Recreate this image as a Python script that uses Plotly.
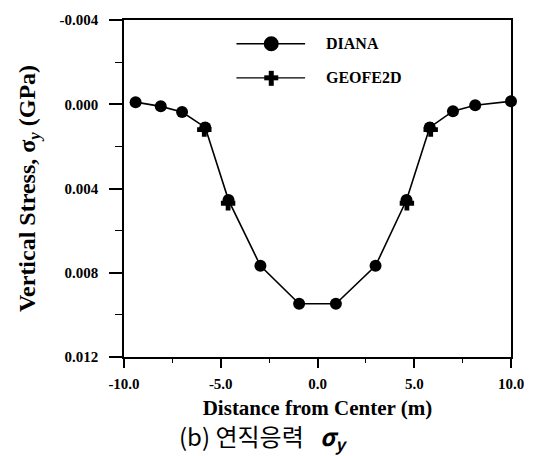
import plotly.graph_objects as go

# Data
diana_x = [-9.4, -8.1, -7.0, -5.8, -4.6, -2.95, -0.95, 0.95, 3.0, 4.6, 5.8, 7.0, 8.15, 10.0]
diana_y = [-0.0001, 0.0001, 0.00037, 0.0011, 0.00455, 0.00767, 0.00947,
           0.00947, 0.00767, 0.00455, 0.0011, 0.00033, 0.00005, -0.00014]

geofe_x = [-5.85, -4.62, None, 4.62, 5.85]
geofe_y = [0.0012, 0.0047, None, 0.0047, 0.0012]

x_ticks = [-10, -5, 0, 5, 10]
x_ticktext = ["-10.0", "-5.0", "0.0", "5.0", "10.0"]
y_ticks = [-0.004, 0.0, 0.004, 0.008, 0.012]
y_ticktext = ["-0.004", "0.000", "0.004", "0.008", "0.012"]

series_names = ["DIANA", "GEOFE2D"]

SERIF = "Liberation Serif"

fig = go.Figure()
fig.add_trace(go.Scatter(
    x=diana_x, y=diana_y, name=series_names[0], mode="lines+markers",
    line=dict(color="black", width=1.6),
    marker=dict(symbol="circle", size=12, color="black"),
    cliponaxis=False, showlegend=False,
))
fig.add_trace(go.Scatter(
    x=geofe_x, y=geofe_y, name=series_names[1], mode="markers",
    marker=dict(symbol="cross", size=12, color="black"),
    cliponaxis=False, showlegend=False,
))

# Custom legend (sample lines, symbols and labels)
lx0, lx1, lxc, ltext = 0.2905, 0.468, 0.3805, 0.5167
ly = [0.9296, 0.8284]
shapes = []
for yy in ly:
    shapes.append(dict(type="line", xref="paper", yref="paper", x0=lx0, x1=lx1,
                       y0=yy, y1=yy, line=dict(color="black", width=1.4)))
shapes.append(dict(type="circle", xref="paper", yref="paper", xsizemode="pixel",
                   ysizemode="pixel", xanchor=lxc, yanchor=ly[0], x0=-7.5, x1=7.5,
                   y0=-7.5, y1=7.5, fillcolor="black", line=dict(width=0)))
shapes.append(dict(type="rect", xref="paper", yref="paper", xsizemode="pixel",
                   ysizemode="pixel", xanchor=lxc, yanchor=ly[1], x0=-7, x1=7,
                   y0=-2.5, y1=2.5, fillcolor="black", line=dict(width=0)))
shapes.append(dict(type="rect", xref="paper", yref="paper", xsizemode="pixel",
                   ysizemode="pixel", xanchor=lxc, yanchor=ly[1], x0=-2.5, x1=2.5,
                   y0=-8, y1=7, fillcolor="black", line=dict(width=0)))

annotations = []
for name, yy in zip(series_names, ly):
    annotations.append(dict(text=name, xref="paper", yref="paper", x=ltext, y=yy,
                            xanchor="left", yanchor="middle", showarrow=False,
                            font=dict(family=SERIF, size=16, color="black", weight="bold")))
annotations.append(dict(
    text="(b) 연직응력\u00a0\u00a0\u00a0<b><i>σ<sub>y</sub></i></b>", xref="paper", yref="paper",
    x=0.36, y=-0.237, xanchor="center", yanchor="middle", showarrow=False,
    font=dict(family="Noto Sans CJK KR", size=24, color="black")))

fig.update_layout(
    width=536, height=456,
    margin=dict(l=124, r=23, t=16, b=99),
    paper_bgcolor="white", plot_bgcolor="white",
    shapes=shapes, annotations=annotations,
    showlegend=False,
)

fig.update_xaxes(
    range=[-10, 10], tickvals=x_ticks, ticktext=x_ticktext,
    showline=True, linecolor="black", linewidth=1.5, mirror=True,
    ticks="outside", ticklen=9, tickwidth=1.5, tickcolor="black",
    minor=dict(dtick=2.5, tick0=0, ticks="outside", ticklen=4, tickwidth=1.2, tickcolor="black"),
    showgrid=False, zeroline=False, ticklabelstandoff=3,
    tickfont=dict(family=SERIF, size=15, color="black", weight="bold"),
    title=dict(text="Distance from Center (m)", standoff=10,
               font=dict(family=SERIF, size=21, color="black", weight="bold")),
)
fig.update_yaxes(
    range=[0.012, -0.004], tickvals=y_ticks, ticktext=y_ticktext,
    showline=True, linecolor="black", linewidth=1.5, mirror=True,
    ticks="outside", ticklen=13, tickwidth=1.5, tickcolor="black",
    minor=dict(dtick=0.002, tick0=0, ticks="outside", ticklen=7, tickwidth=1.2, tickcolor="black"),
    showgrid=False, zeroline=False, ticklabelstandoff=8,
    tickfont=dict(family=SERIF, size=15, color="black", weight="bold"),
    title=dict(text="Vertical Stress, σ<sub><i>y</i></sub> (GPa)", standoff=17,
               font=dict(family=SERIF, size=24, color="black", weight="bold")),
)

fig.write_html("out.html", config={"displayModeBar": False},
               post_script="document.body.style.margin='0';")
